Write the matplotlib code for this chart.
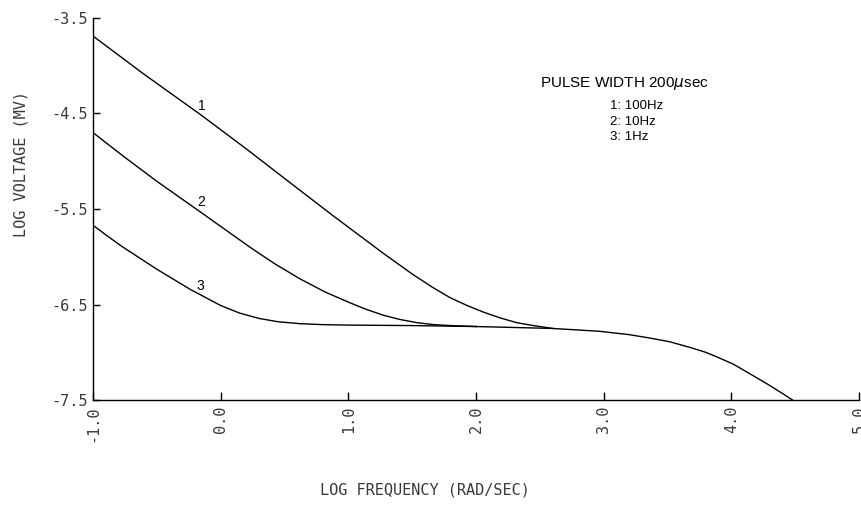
import matplotlib
matplotlib.use("Agg")
import matplotlib.pyplot as plt

# curve 1: 100 Hz
x1 = [-1.0, -0.6, -0.16, 0.2, 0.52, 0.88, 1.27, 1.50, 1.66, 1.80, 1.93, 2.06, 2.19, 2.32, 2.45, 2.6]
y1 = [-3.69, -4.09, -4.51, -4.87, -5.20, -5.57, -5.96, -6.18, -6.32, -6.43, -6.51, -6.58,
      -6.64, -6.69, -6.72, -6.75]

# curve 2: 10 Hz
x2 = [-1.0, -0.77, -0.50, -0.16, 0.23, 0.42, 0.62, 0.82, 1.01, 1.14, 1.27, 1.40, 1.54, 1.67,
      1.80, 2.0]
y2 = [-4.70, -4.94, -5.21, -5.53, -5.90, -6.07, -6.23, -6.37, -6.48, -6.55, -6.61, -6.655,
      -6.69, -6.71, -6.72, -6.73]

# curve 3: 1 Hz
x3 = [-1.0, -0.88, -0.77, -0.50, -0.24, 0.0, 0.15, 0.30, 0.45, 0.62, 0.80, 1.0, 1.5, 2.0]
y3 = [-5.67, -5.79, -5.895, -6.13, -6.34, -6.51, -6.59, -6.645, -6.68, -6.70, -6.71, -6.715,
      -6.72, -6.73]

# common high frequency tail
x_tail = [2.0, 2.6, 2.97, 3.2, 3.36, 3.52, 3.68, 3.80, 3.89, 4.01, 4.14, 4.28, 4.40, 4.48]
y_tail = [-6.73, -6.75, -6.78, -6.815, -6.85, -6.89, -6.95, -7.00, -7.05, -7.12, -7.22, -7.33,
          -7.43, -7.50]

curve_labels = ["1", "2", "3"]
label_x = [-0.15, -0.15, -0.16]
label_y = [-4.42, -5.43, -6.31]

x_ticks = [-1, 0, 1, 2, 3, 4, 5]
x_ticklabels = ["-1.0", "0.0", "1.0", "2.0", "3.0", "4.0", "5.0"]
y_ticks = [-3.5, -4.5, -5.5, -6.5, -7.5]
y_ticklabels = ["-3.5", "-4.5", "-5.5", "-6.5", "-7.5"]

legend_title = "PULSE WIDTH 200$\\mu$sec"
legend_lines = ["1: 100Hz", "2: 10Hz", "3: 1Hz"]

mono = "DejaVu Sans Mono"
grey = "#3a3a3a"

fig = plt.figure(figsize=(8.61, 5.11), dpi=100)
ax = fig.add_axes([0.108, 0.217, 0.8897, 0.748])

for xs, ys in [(x1, y1), (x2, y2), (x3, y3), (x_tail, y_tail)]:
    ax.plot(xs, ys, color="black", linewidth=1.0, solid_joinstyle="round")

for lab, lx, ly in zip(curve_labels, label_x, label_y):
    ax.text(lx, ly, lab, fontsize=10, family="Liberation Sans", ha="center", va="center")

ax.set_xlim(-1, 5)
ax.set_ylim(-7.5, -3.5)
ax.spines["top"].set_visible(False)
ax.spines["right"].set_visible(False)
for s in ["left", "bottom"]:
    ax.spines[s].set_linewidth(1.0)

ax.set_xticks(x_ticks)
ax.set_xticklabels(x_ticklabels, rotation=90, family=mono, fontsize=11, color=grey)
ax.set_yticks(y_ticks)
ax.set_yticklabels(y_ticklabels, family=mono, fontsize=11, color=grey)
ax.tick_params(direction="in", length=6, width=1.0, pad=4)
ax.tick_params(axis="y", length=5)

# annotation block
ax.text(2.50, -4.19, legend_title, fontsize=11, family="Liberation Sans", ha="left", va="center")
for i, line in enumerate(legend_lines):
    ax.text(3.05, -4.42 - 0.165 * i, line, fontsize=9.5, family="Liberation Sans",
            ha="left", va="center")

fig.text(0.024, 0.68, "LOG VOLTAGE (MV)", rotation=90, family=mono, fontsize=11,
         color=grey, ha="center", va="center")
fig.text(0.494, 0.041, "LOG FREQUENCY (RAD/SEC)", family=mono, fontsize=11,
         color=grey, ha="center", va="center")

fig.savefig("out.png", dpi=100)
